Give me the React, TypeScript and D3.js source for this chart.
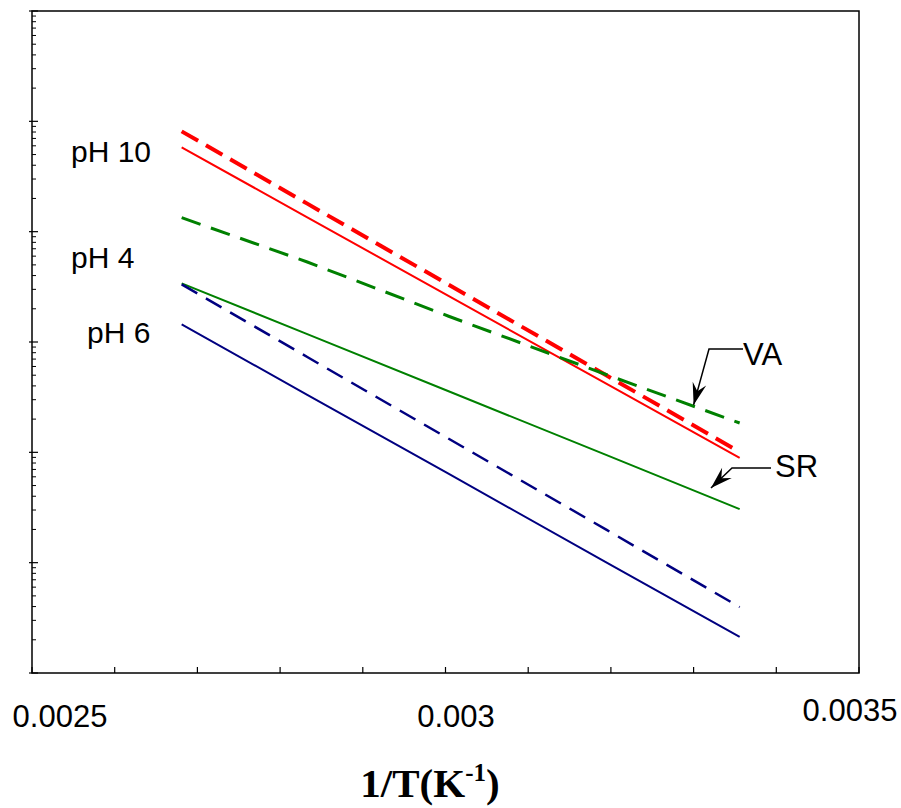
import React from "react";
import * as d3 from "d3";

// Temperatures (K) at which the rate constants are read; x = 1/T
const temps = [373, 353, 333, 313, 298];

// Series values (log-scaled y axis, arbitrary units)
const ph10SR = [0.0581, 0.01349, 0.00263, 0.000417, 0.0000889];
const ph10VA = [0.0811, 0.01795, 0.00333, 0.000497, 0.0001007];
const ph4VA = [0.0134, 0.00531, 0.001721, 0.000505, 0.0001845];
const ph4SR = [0.0034, 0.00118, 0.00036, 0.0000942, 0.0000306];
const ph6VA = [0.00333, 0.000731, 0.000134, 0.0000198, 0.00000396];
const ph6SR = [0.001443, 0.000332, 0.0000643, 0.00001, 0.00000212];

const xTickLabels = ["0.0025", "0.003", "0.0035"];

const W = 901;
const H = 808;
const L = 32, R = 859, T = 11, B = 673;

export default function App() {
  const x = d3.scaleLinear().domain([0.0025, 0.0035]).range([L, R]);
  const y = d3.scaleLog().domain([1e-6, 1]).range([B, T]);

  const line = d3
    .line<[number, number]>()
    .x((d) => x(d[0]))
    .y((d) => y(d[1]));

  const mk = (vals: number[]) => temps.map((t, i) => [1 / t, vals[i]] as [number, number]);

  const series = [
    { v: ph10VA, color: "#ff0000", w: 4, dash: "19 9" },
    { v: ph10SR, color: "#ff0000", w: 2, dash: "" },
    { v: ph4VA, color: "#008000", w: 3, dash: "20 11" },
    { v: ph4SR, color: "#008000", w: 2, dash: "" },
    { v: ph6VA, color: "#000080", w: 2.5, dash: "18 10" },
    { v: ph6SR, color: "#000080", w: 2, dash: "" },
  ];

  // y ticks
  const majors: number[] = [];
  const minors: number[] = [];
  for (let e = -6; e <= 0; e++) {
    majors.push(Math.pow(10, e));
    if (e < 0) for (let m = 2; m <= 9; m++) minors.push(m * Math.pow(10, e));
  }
  const xTicks = d3.range(0, 11).map((i) => 0.0025 + i * 0.0001);

  const arrowHead = (tx: number, ty: number, fx: number, fy: number) => {
    const dx = tx - fx, dy = ty - fy;
    const len = Math.hypot(dx, dy);
    const ux = dx / len, uy = dy / len;
    const nx = -uy, ny = ux;
    const Lh = 22, Wh = 7;
    const p1 = [tx - ux * Lh + nx * Wh, ty - uy * Lh + ny * Wh];
    const p2 = [tx - ux * Lh * 0.65, ty - uy * Lh * 0.65];
    const p3 = [tx - ux * Lh - nx * Wh, ty - uy * Lh - ny * Wh];
    return `M${tx},${ty}L${p1[0]},${p1[1]}L${p2[0]},${p2[1]}L${p3[0]},${p3[1]}Z`;
  };

  // annotation tips in data coordinates
  const vaTip = [x(0.0033), y(2.69e-4)];
  const srTip = [x(0.003321), y(4.75e-5)];
  const vaElbow = [709, 349];
  const srElbow = [732, 468];

  const font = "'Liberation Sans', Arial, sans-serif";

  return (
    <svg width={W} height={H} style={{ display: "block", position: "absolute", left: 0, top: 0 }}>
      <rect x={0} y={0} width={W} height={H} fill="#fff" />
      {/* frame */}
      <rect x={L} y={T} width={R - L} height={B - T} fill="none" stroke="#000" strokeWidth={1.5} />
      {/* y ticks */}
      {majors.map((v, i) => (
        <line key={"M" + i} x1={L - 3} x2={L + 6} y1={y(v)} y2={y(v)} stroke="#000" strokeWidth={1.2} />
      ))}
      {minors.map((v, i) => (
        <line key={"m" + i} x1={L} x2={L + 4} y1={y(v)} y2={y(v)} stroke="#000" strokeWidth={1} />
      ))}
      {/* x ticks */}
      {xTicks.map((v, i) => (
        <line key={"x" + i} x1={x(v)} x2={x(v)} y1={B} y2={B - 6} stroke="#000" strokeWidth={1.2} />
      ))}
      {/* x tick labels */}
      <text x={60} y={727} fontFamily={font} fontSize={31} textAnchor="middle">{xTickLabels[0]}</text>
      <text x={456} y={727} fontFamily={font} fontSize={31} textAnchor="middle">{xTickLabels[1]}</text>
      <text x={850} y={721} fontFamily={font} fontSize={31} textAnchor="middle">{xTickLabels[2]}</text>
      {/* axis title */}
      <text x={430} y={797} fontFamily="'Liberation Serif', 'Times New Roman', serif" fontWeight="bold" fontSize={41} textAnchor="middle">
        1/T(K<tspan fontSize={25} dy={-16}>-1</tspan><tspan dy={16}>)</tspan>
      </text>
      {/* series */}
      {series.map((s, i) => (
        <path
          key={i}
          d={line(mk(s.v)) || ""}
          fill="none"
          stroke={s.color}
          strokeWidth={s.w}
          strokeDasharray={s.dash || undefined}
        />
      ))}
      {/* pH labels */}
      <text x={71} y={162} fontFamily={font} fontSize={30}>pH 10</text>
      <text x={71} y={268} fontFamily={font} fontSize={30}>pH 4</text>
      <text x={87} y={343} fontFamily={font} fontSize={30}>pH 6</text>
      {/* VA annotation */}
      <polyline
        points={`743,349 ${vaElbow[0]},${vaElbow[1]} ${vaTip[0]},${vaTip[1]}`}
        fill="none"
        stroke="#000"
        strokeWidth={1.5}
      />
      <path d={arrowHead(vaTip[0], vaTip[1], vaElbow[0], vaElbow[1])} fill="#000" />
      <text x={743} y={365} fontFamily={font} fontSize={31}>VA</text>
      {/* SR annotation */}
      <polyline
        points={`771,468 ${srElbow[0]},${srElbow[1]} ${srTip[0]},${srTip[1]}`}
        fill="none"
        stroke="#000"
        strokeWidth={1.5}
      />
      <path d={arrowHead(srTip[0], srTip[1], srElbow[0], srElbow[1])} fill="#000" />
      <text x={775} y={477} fontFamily={font} fontSize={31}>SR</text>
    </svg>
  );
}
